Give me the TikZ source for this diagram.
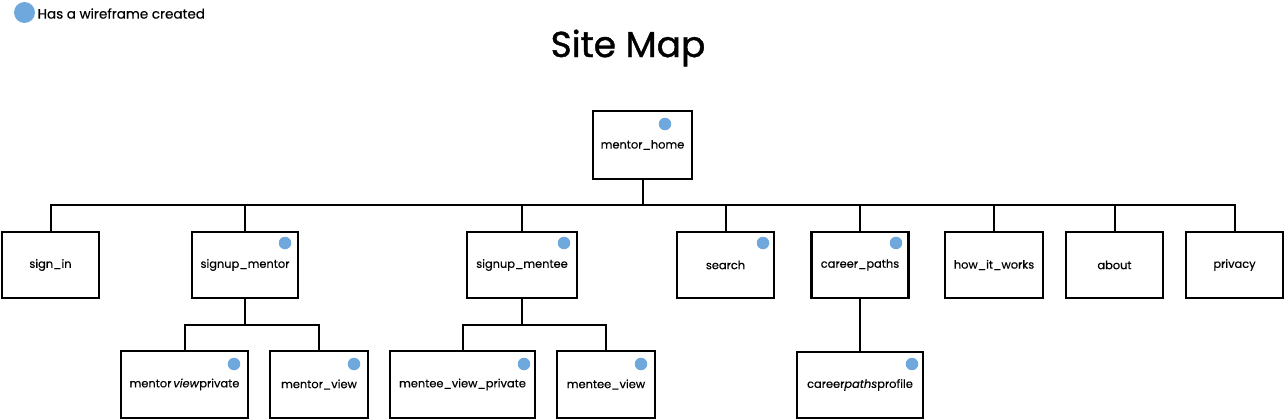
\documentclass[tikz,border=0pt]{standalone}
\usepackage{fontspec}
\setmainfont{Poppins}[FakeBold=0.4, ItalicFeatures={FakeBold=0.4}]
\newfontfamily\titlefont{Poppins}[FakeBold=1.1]
\definecolor{wfblue}{RGB}{111,168,220}
\begin{document}
\begin{tikzpicture}[x=1pt,y=-1pt,
  box/.style={draw=black, line width=2.8pt, fill=white, inner sep=0pt, font=\fontsize{11.4}{13}\selectfont},
  link/.style={draw=black, line width=2pt},
  wdot/.style={circle, fill=wfblue, inner sep=0pt, minimum size=12.5pt},
  ]
\useasboundingbox (0,0) rectangle (1285,420);
% legend
\node[wdot, minimum size=21pt] (legdot) at (24.5,12.5) {};
\node[anchor=west, inner sep=0pt, font=\fontsize{13.5}{15}\selectfont] (legtxt) at (37.5,13.5) {Has a wireframe created};
% title
\node[font=\titlefont\fontsize{36}{40}\selectfont, inner sep=0pt] (title) at (628,48) {Site Map};
% boxes
\node[box, minimum width=99pt, minimum height=68pt] (home) at (642.5,145) {mentor\_home};
\node[box, minimum width=97pt, minimum height=66pt] (signin) at (50.5,265) {sign\_in};
\node[box, minimum width=106pt, minimum height=66pt] (smentor) at (245,265) {signup\_mentor};
\node[box, minimum width=110pt, minimum height=66pt] (smentee) at (522,265) {signup\_mentee};
\node[box, minimum width=97pt, minimum height=66pt] (search) at (725.5,265) {search};
\node[box, minimum width=97pt, minimum height=66pt] (career) at (860,265) {career\_paths};
\node[box, minimum width=98pt, minimum height=66pt] (how) at (994,265) {how\_it\_works};
\node[box, minimum width=97pt, minimum height=66pt] (about) at (1114.5,265) {about};
\node[box, minimum width=97pt, minimum height=66pt] (privacy) at (1234.5,265) {privacy};
\node[box, minimum width=127pt, minimum height=67pt] (mvp) at (184.5,384.5) {mentor\,\textit{view}private};
\node[box, minimum width=98pt, minimum height=67pt] (mv) at (319,384.5) {mentor\_view};
\node[box, minimum width=145pt, minimum height=67pt] (mevp) at (462.5,384.5) {mentee\_view\_private};
\node[box, minimum width=98pt, minimum height=67pt] (mev) at (606,384.5) {mentee\_view};
\node[box, minimum width=126pt, minimum height=66pt] (cpp) at (860,385) {career\textit{paths}profile};
% wireframe dots
\node[wdot] (dhome) at (665,124) {};
\node[wdot] (dsmentor) at (285,243) {};
\node[wdot] (dsmentee) at (564,243) {};
\node[wdot] (dsearch) at (763,243) {};
\node[wdot] (dcareer) at (896,243) {};
\node[wdot] (dmvp) at (234,364) {};
\node[wdot] (dmv) at (354,364) {};
\node[wdot] (dmevp) at (524,364) {};
\node[wdot] (dmev) at (641,364) {};
\node[wdot] (dcpp) at (912,364) {};
% bus coordinates
\coordinate (bus) at (0,205);
\coordinate (busm) at (0,325);
% main tree
\draw[link] (home.south) -- (home.south |- bus);
\draw[link] (signin.north) -- (signin.north |- bus) -- (privacy.north |- bus) -- (privacy.north);
\foreach \n in {smentor,smentee,search,career,how,about}
  \draw[link] (\n.north) -- (\n.north |- bus);
% signup_mentor subtree
\draw[link] (smentor.south) -- (smentor.south |- busm);
\draw[link] (mvp.north) -- (mvp.north |- busm) -- (mv.north |- busm) -- (mv.north);
% signup_mentee subtree
\draw[link] (smentee.south) -- (smentee.south |- busm);
\draw[link] (mevp.north) -- (mevp.north |- busm) -- (mev.north |- busm) -- (mev.north);
% career subtree
\draw[link] (career.south) -- (cpp.north);
\end{tikzpicture}
\end{document}
